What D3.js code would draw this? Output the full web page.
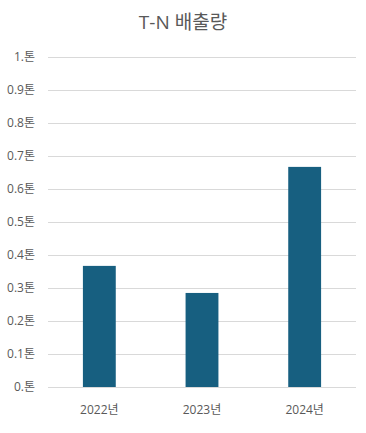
<!DOCTYPE html>
<html>
<head>
<meta charset="utf-8">
<script src="https://cdn.jsdelivr.net/npm/d3@7"></script>
<style>
  body { margin: 0; background: #fff; }
  text { font-family: "Open Sans", "Noto Sans CJK KR", sans-serif; }
</style>
</head>
<body>
<div id="chart"></div>
<script>
const years = ["2022년", "2023년", "2024년"];
const values = [0.367, 0.285, 0.667];
const yTicks = [0, 0.1, 0.2, 0.3, 0.4, 0.5, 0.6, 0.7, 0.8, 0.9, 1.0];
const yTickLabels = ["0.톤", "0.1톤", "0.2톤", "0.3톤", "0.4톤", "0.5톤", "0.6톤", "0.7톤", "0.8톤", "0.9톤", "1.톤"];

const W = 366, H = 433;
const margin = { top: 57, right: 10, bottom: 46, left: 48 };
const width = W - margin.left - margin.right;
const height = H - margin.top - margin.bottom;

const svg = d3.select("#chart").append("svg")
  .attr("width", W)
  .attr("height", H);

const g = svg.append("g")
  .attr("transform", `translate(${margin.left},${margin.top})`);

const x = d3.scaleBand().domain(years).range([0, width]).padding(0);
const y = d3.scaleLinear().domain([0, 1]).range([height, 0]);

// gridlines
g.selectAll(".grid")
  .data(yTicks)
  .enter().append("line")
    .attr("x1", 0)
    .attr("x2", width)
    .attr("y1", d => Math.round(y(d)) + 0.5)
    .attr("y2", d => Math.round(y(d)) + 0.5)
    .attr("stroke", "#d9d9d9")
    .attr("stroke-width", 1);

// y labels
g.selectAll(".ylab")
  .data(yTicks)
  .enter().append("text")
    .attr("x", -13)
    .attr("y", d => y(d))
    .attr("dy", "0.35em")
    .attr("text-anchor", "end")
    .style("font-size", "12px")
    .attr("fill", "#595959")
    .text((d, i) => yTickLabels[i]);

// bars
const barW = x.bandwidth() * 0.32;
g.selectAll(".bar")
  .data(values)
  .enter().append("rect")
    .attr("x", (d, i) => x(years[i]) + x.bandwidth() / 2 - barW / 2)
    .attr("y", d => y(d))
    .attr("width", barW)
    .attr("height", d => height - y(d))
    .attr("fill", "#175f80");

// x labels
g.selectAll(".xlab")
  .data(years)
  .enter().append("text")
    .attr("x", d => x(d) + x.bandwidth() / 2)
    .attr("y", height + 23)
    .attr("dy", "0.35em")
    .attr("text-anchor", "middle")
    .style("font-size", "12px")
    .attr("fill", "#595959")
    .text(d => d);

// title
svg.append("text")
  .attr("x", W / 2)
  .attr("y", 22)
  .attr("dy", "0.35em")
  .attr("text-anchor", "middle")
  .style("font-size", "19px")
  .attr("fill", "#595959")
  .text("T-N 배출량");
</script>
</body>
</html>
